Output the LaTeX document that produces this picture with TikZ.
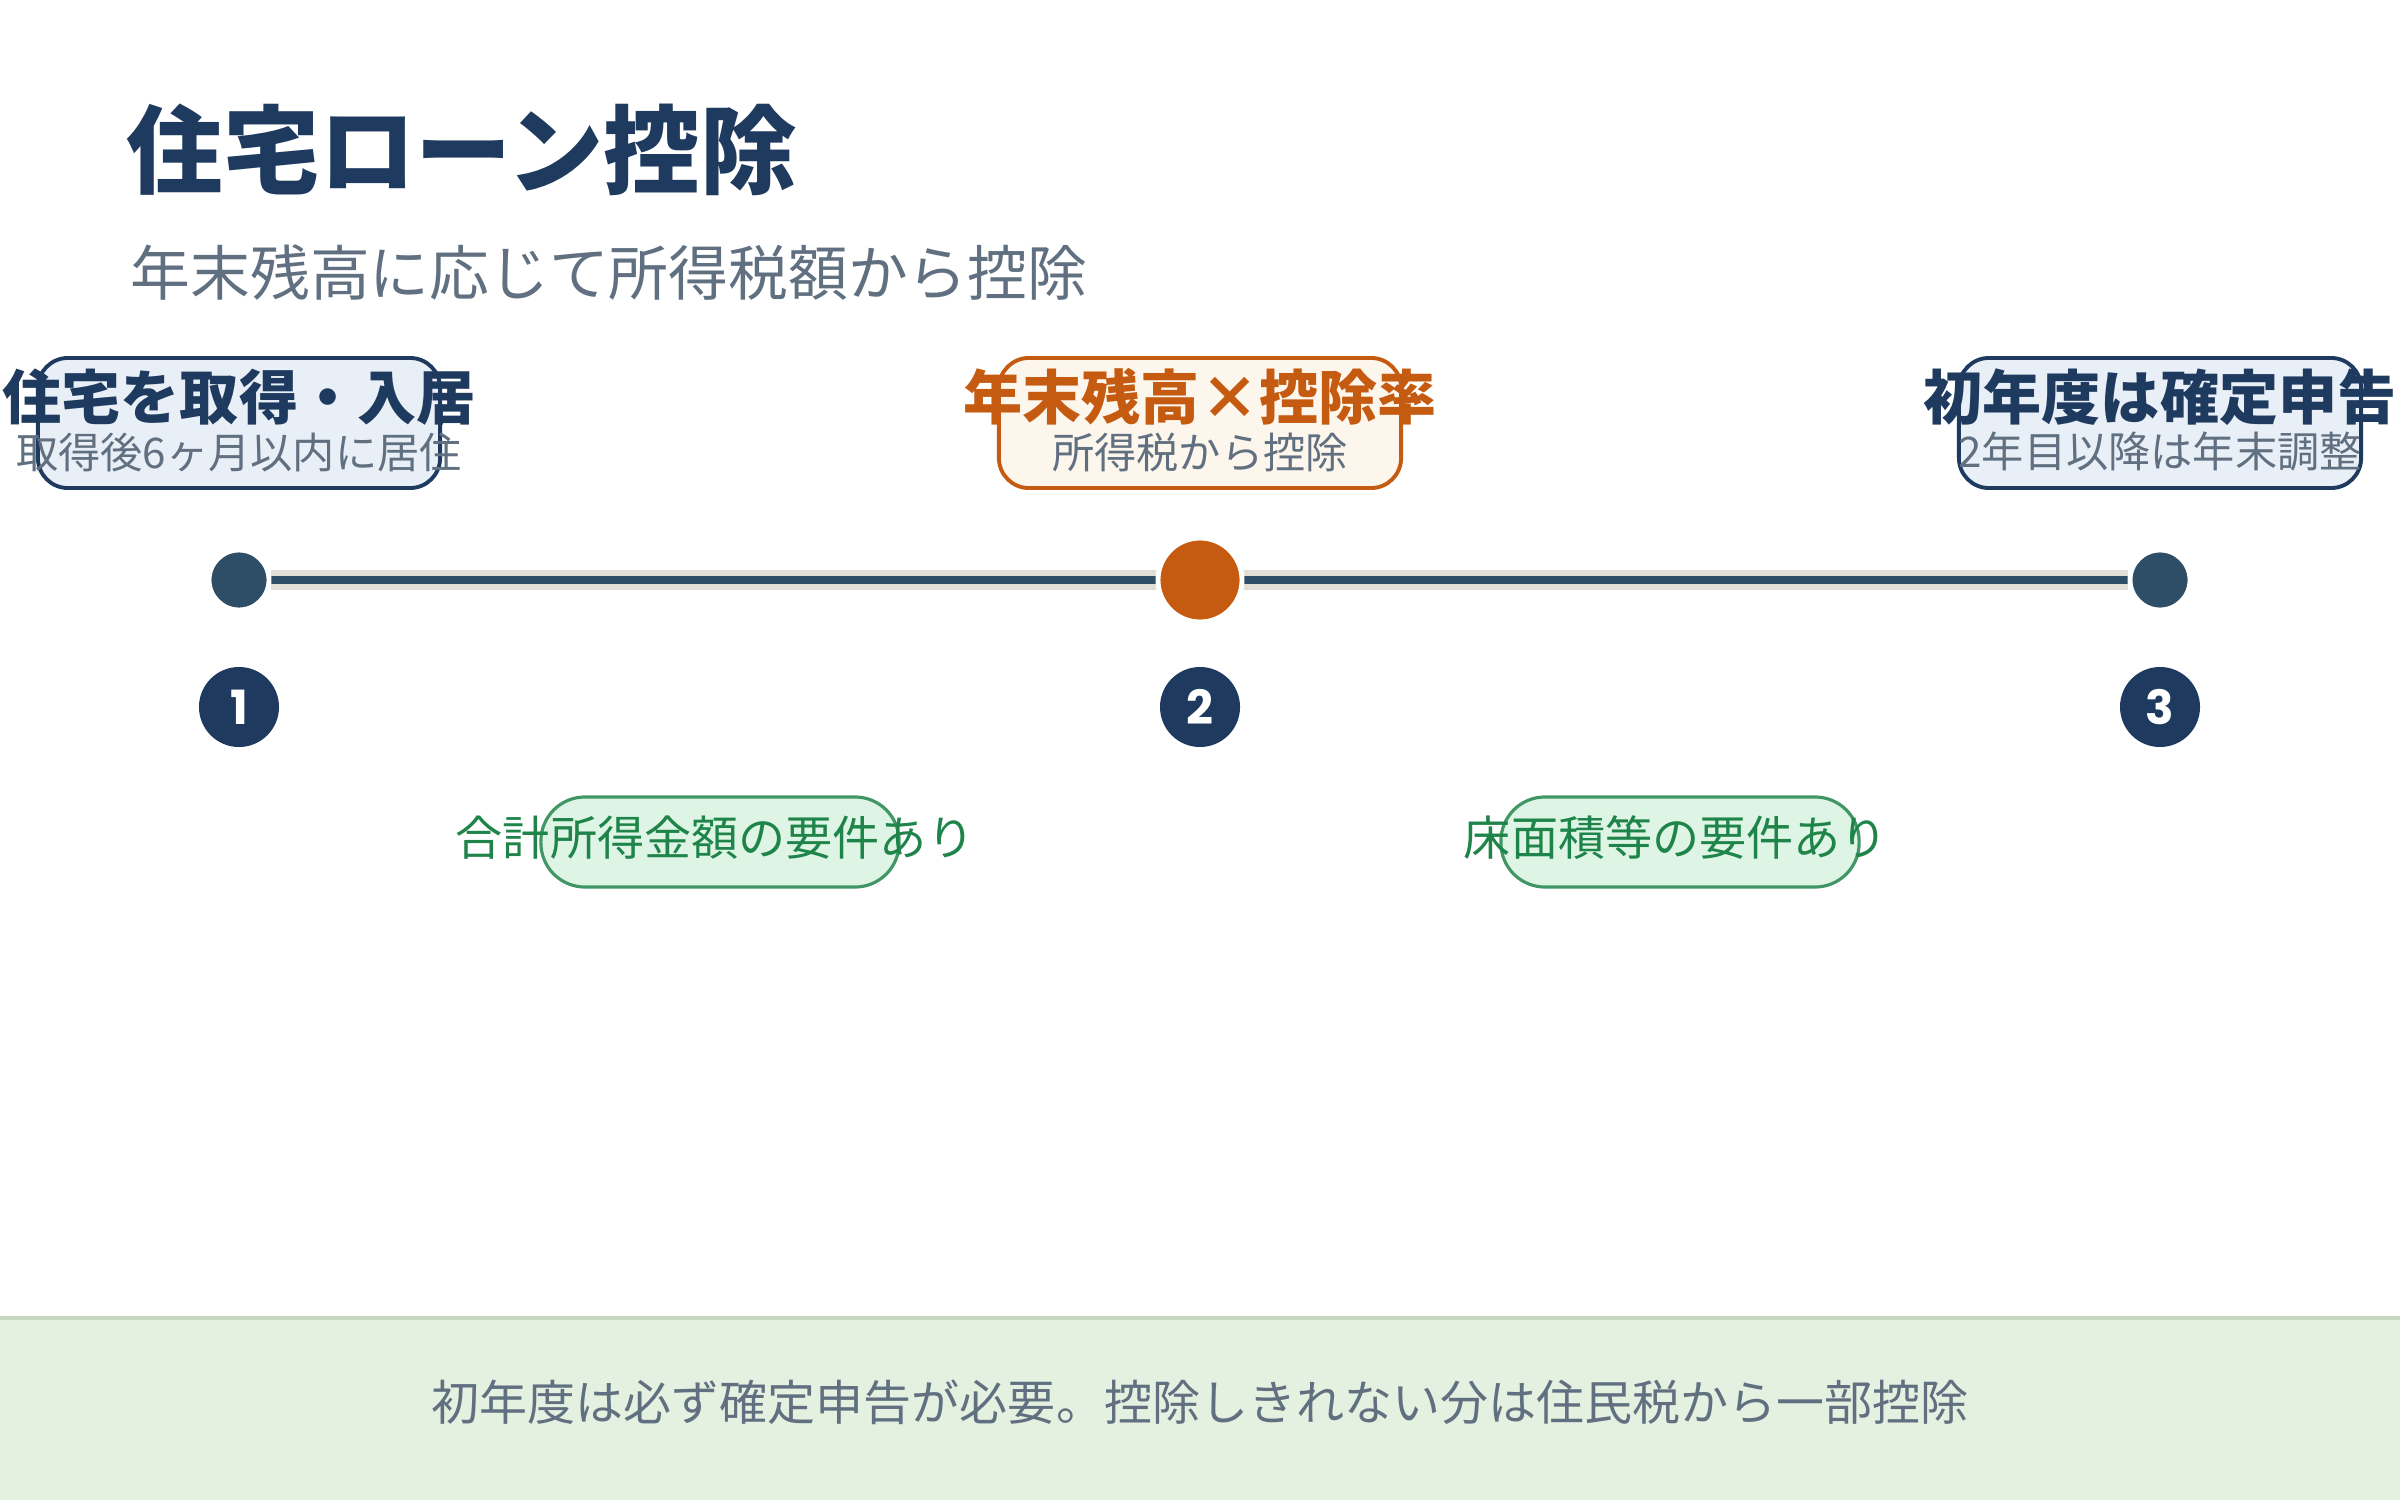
\documentclass[tikz,border=0pt]{standalone}
\usepackage{fontspec}
\setmainfont{Noto Sans CJK JP}
\newfontfamily\numfont{Poppins}
\usetikzlibrary{positioning,calc,backgrounds}
\definecolor{navycolor}{RGB}{31,58,95}
\definecolor{slatecolor}{RGB}{46,77,102}
\definecolor{trackcolor}{RGB}{226,224,214}
\definecolor{orangecolor}{RGB}{197,90,17}
\definecolor{creamcolor}{RGB}{253,246,236}
\definecolor{icecolor}{RGB}{233,239,246}
\definecolor{graycolor}{RGB}{96,112,128}
\definecolor{greencolor}{RGB}{30,132,73}
\definecolor{mintcolor}{RGB}{222,245,229}
\definecolor{footcolor}{RGB}{228,240,224}
\definecolor{footline}{RGB}{195,216,190}

\begin{document}
\begin{tikzpicture}[
	x=0.01cm, y=-0.01cm,
	card/.style 2 args={
		rectangle,
		draw=#1,
		fill=#2,
		line width=1.1pt,
		rounded corners=0.3cm,
		minimum width=4.02cm,
		minimum height=1.3cm
	},
	cardtitle/.style={
		inner sep=0pt,
		font=\bfseries\fontsize{16.8}{20}\selectfont,
		color=#1
	},
	cardtitle/.default=navycolor,
	cardsub/.style={
		inner sep=0pt,
		font=\fontsize{12}{14}\selectfont,
		color=graycolor
	},
	dot/.style={
		circle,
		fill=#1,
		draw=white,
		line width=1.4pt,
		minimum size=0.6cm,
		inner sep=0pt
	},
	dot/.default=slatecolor,
	badge/.style={
		circle,
		fill=navycolor,
		minimum size=0.8cm,
		inner sep=0pt,
		text=white,
		font=\numfont\bfseries\fontsize{13.4}{16}\selectfont
	},
	pill/.style={
		rectangle,
		draw=greencolor!85,
		fill=mintcolor,
		line width=0.9pt,
		rounded corners=0.44cm,
		minimum width=3.58cm,
		minimum height=0.9cm
	},
	pilltext/.style={
		inner sep=0pt,
		font=\fontsize{13.4}{16}\selectfont,
		color=greencolor
	}
	]
	
	\useasboundingbox (0,0) rectangle (2400,1500);
	
	% Heading
	\node[anchor=west, inner sep=0pt, font=\bfseries\fontsize{27.4}{31}\selectfont, color=navycolor] (title) at (126,150) {住宅ローン控除};
	\node[anchor=west, inner sep=0pt, font=\fontsize{17}{20}\selectfont, color=graycolor] (subtitle) at (130,273) {年末残高に応じて所得税額から控除};
	
	% Step 1
	\node[card={navycolor}{icecolor}] (acquire) at (239,423) {};
	\node[cardtitle] (acquire-t) at (239,397) {住宅を取得・入居};
	\node[cardsub] (acquire-s) at (239,452) {取得後6ヶ月以内に居住};
	
	% Step 2
	\node[card={orangecolor}{creamcolor}] (deduct) at (1200,423) {};
	\node[cardtitle=orangecolor] (deduct-t) at (1200,397) {年末残高×控除率};
	\node[cardsub] (deduct-s) at (1200,452) {所得税から控除};
	
	% Step 3
	\node[card={navycolor}{icecolor}] (return) at (2160,423) {};
	\node[cardtitle] (return-t) at (2160,397) {初年度は確定申告};
	\node[cardsub] (return-s) at (2160,452) {2年目以降は年末調整};
	
	% Timeline
	\node[dot] (dot1) at (239,580) {};
	\node[dot=orangecolor, minimum size=0.84cm] (dot2) at (1200,580) {};
	\node[dot] (dot3) at (2160,580) {};
	\begin{pgfonlayer}{background}
		\draw[trackcolor, line width=5.7pt] (dot1) -- (dot3);
		\draw[slatecolor, line width=2.3pt] (dot1) -- (dot3);
	\end{pgfonlayer}
	
	% Badges
	\node[badge] (num1) at (239,707) {1};
	\node[badge] (num2) at (1200,707) {2};
	\node[badge] (num3) at (2160,707) {3};
	
	% Requirements
	\node[pill] (income) at (720,842) {};
	\node[pilltext] (income-t) at (715,838) {合計所得金額の要件あり};
	\node[pill] (floor) at (1680,842) {};
	\node[pilltext] (floor-t) at (1676,838) {床面積等の要件あり};
	
	% Footer
	\fill[footcolor] (0,1316) rectangle (2400,1500);
	\draw[footline, line width=1.4pt] (0,1318) -- (2400,1318);
	\node[inner sep=0pt, font=\fontsize{13.65}{16}\selectfont, color=graycolor] (note) at (1200,1402) {初年度は必ず確定申告が必要。控除しきれない分は住民税から一部控除};
	
\end{tikzpicture}
\end{document}
